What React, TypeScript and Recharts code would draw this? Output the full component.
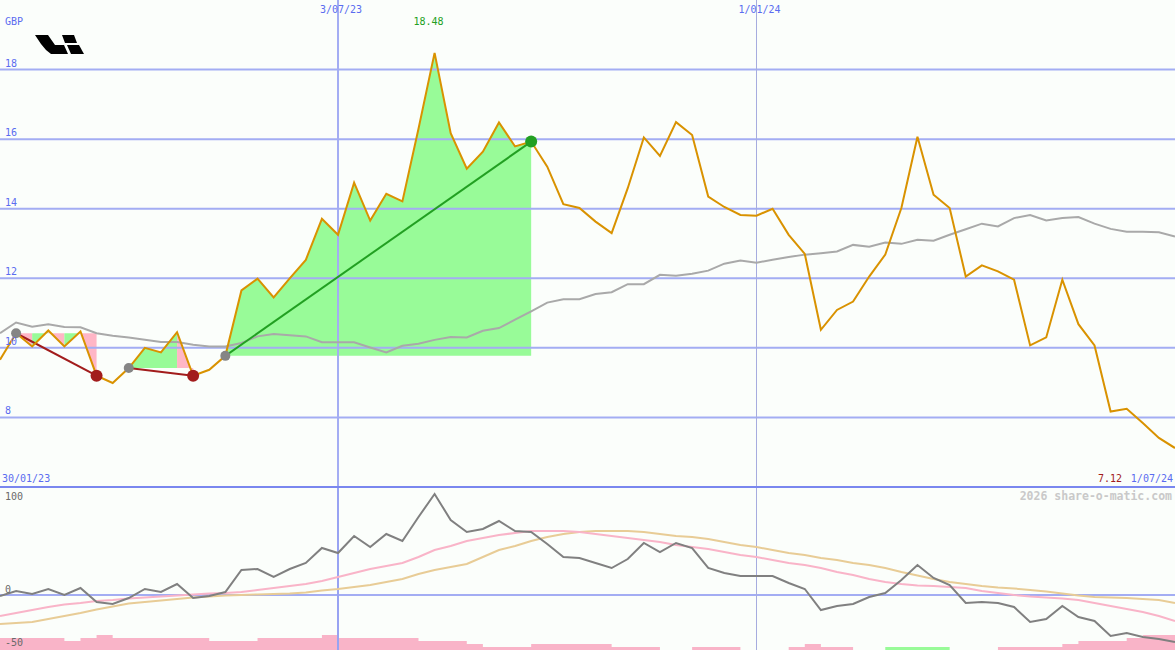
import React from 'react';
import { ComposedChart, Line, Area, XAxis, YAxis, ReferenceLine } from 'recharts';

// ---------- data ----------
const prices = [
  9.66, 10.42, 10.04, 10.5, 10.04, 10.47, 9.2, 8.99, 9.42, 10.0,
  9.87, 10.45, 9.2, 9.37, 9.77, 11.65, 11.99, 11.45, 12.0, 12.53,
  13.71, 13.25, 14.75, 13.66, 14.43, 14.21, 16.3, 18.48, 16.17, 15.15,
  15.64, 16.48, 15.79, 15.93, 15.21, 14.13, 14.02, 13.63, 13.3, 14.59,
  16.05, 15.52, 16.49, 16.12, 14.35, 14.05, 13.82, 13.8, 14.0, 13.25,
  12.7, 10.52, 11.09, 11.33, 12.05, 12.68, 14.02, 16.07, 14.4, 14.02,
  12.05, 12.37, 12.2, 11.96, 10.07, 10.3, 11.96, 10.68, 10.07, 8.17,
  8.25, 7.84, 7.41, 7.12,
];

const priceAverage = [
  10.42, 10.73, 10.61, 10.68, 10.6, 10.59, 10.42, 10.35, 10.3, 10.23,
  10.17, 10.17, 10.09, 10.04, 10.04, 10.14, 10.33, 10.4, 10.36, 10.33,
  10.16, 10.16, 10.16, 10.01, 9.87, 10.06, 10.12, 10.23, 10.31, 10.3,
  10.49, 10.57, 10.81, 11.05, 11.3, 11.4, 11.4, 11.55, 11.6, 11.83,
  11.83, 12.1, 12.07, 12.13, 12.22, 12.42, 12.51, 12.45, 12.53, 12.61,
  12.68, 12.72, 12.77, 12.96, 12.91, 13.03, 12.99, 13.11, 13.08, 13.25,
  13.41, 13.57, 13.49, 13.73, 13.82, 13.66, 13.73, 13.76, 13.57, 13.42,
  13.34, 13.34, 13.32, 13.2,
];

const momentum = [
  -1, 4, 1, 6, 0, 7, -7, -9, -3, 6,
  3, 11, -3, -1, 3, 25, 26, 18, 26, 32,
  47, 42, 59, 48, 61, 54, 78, 101, 75, 63,
  66, 74, 64, 63, 51, 38, 37, 32, 27, 36,
  52, 43, 52, 47, 27, 22, 19, 19, 19, 12,
  6, -15, -11, -9, -2, 2, 15, 30, 17, 10,
  -8, -7, -8, -12, -27, -24, -11, -22, -26, -41,
  -38, -42, -44, -47,
];

const momentumFast = [
  -21, -18, -15, -12, -9.5, -8, -6, -5, -3.5, -2.5,
  -1.5, -0.5, 0.5, 1.5, 2, 3, 5, 7, 9, 11,
  14, 18, 22, 26, 29, 32, 38, 45, 49, 54,
  57, 60, 62, 64, 64, 64, 63, 61, 59, 57,
  55, 53, 50, 48, 46, 43, 40, 38, 35, 32,
  30, 27, 23, 20, 16, 13, 11, 9.5, 9, 8,
  7, 4, 2, 0, -1.5, -2.5, -3.5, -5, -8, -11,
  -14, -17, -21, -26,
];

const momentumSlow = [
  -29, -28, -27, -24, -21, -18, -14.5, -11.5, -8.5, -7,
  -5.5, -4, -2.5, -1.5, -0.5, 0, 0.5, 1, 1.5, 2.5,
  4.5, 6, 8, 10, 13, 16, 21, 25, 28, 31,
  38, 45, 49, 54, 58, 61, 63, 64, 64, 64,
  63, 61, 59, 58, 56, 53, 50, 48, 45, 42,
  40, 37, 35, 32, 30, 27, 23, 19.5, 16, 13,
  11, 9, 7.5, 6.5, 5, 3.5, 1.5, -0.5, -2, -2.5,
  -3, -4, -5, -8,
];

// histogram bar heights (oscillator units above the floor), each covering [i, i+1]
const histPink = [
  12, 12, 12, 12, 9, 12, 15, 12, 12, 12,
  12, 12, 12, 9, 9, 9, 12, 12, 12, 12,
  15, 12, 12, 12, 12, 12, 9, 9, 9, 6,
  3, 3, 3, 6, 6, 6, 6, 6, 3, 3,
  3, 0, 0, 3, 3, 3, 0, 0, 0, 3,
  6, 3, 3, 0, 0, 0, 0, 0, 0, 0,
  0, 0, 3, 3, 3, 3, 6, 9, 9, 9,
  12, 15, 15, 15,
];
const histGreen = [
  0, 0, 0, 0, 0, 0, 0, 0, 0, 0,
  0, 0, 0, 0, 0, 0, 0, 0, 0, 0,
  0, 0, 0, 0, 0, 0, 0, 0, 0, 0,
  0, 0, 0, 0, 0, 0, 0, 0, 0, 0,
  0, 0, 0, 0, 0, 0, 0, 0, 0, 0,
  0, 0, 0, 0, 0, 3, 3, 3, 3, 0,
  0, 0, 0, 0, 0, 0, 0, 0, 0, 0,
  0, 0, 0, 0,
];

// trends: start index, end index, direction
const trends = [
  { from: 1, to: 6, up: false },
  { from: 8, to: 12, up: false },
  { from: 14, to: 33, up: true },
];
// shaded runs: [from, to, trend number, rising?]
const fillRuns: [number, number, number, boolean][] = [
  [1, 2, 0, false], [2, 3, 0, true], [3, 4, 0, false], [4, 5, 0, true], [5, 6, 0, false],
  [8, 11, 1, true], [11, 12, 1, false],
  [14, 33, 2, true],
];

const dateTickIdx = [21, 47];
const dateTickLabels = ['3/07/23', '1/01/24'];
const firstDateLabel = '30/01/23';
const lastDateLabel = '1/07/24';
const priceTicks = [8, 10, 12, 14, 16, 18];
const oscTicks = [100, 0, -50];
const currencyLabel = 'GBP';
const watermark = '2026 share-o-matic.com';

// ---------- style ----------
const MONO = "'DejaVu Sans Mono', monospace";
const BLUE = '#5a6cf0';
const GRID = '#a3adf3';
const GRID2 = '#a6acdf';
const SEP = '#7a87ef';
const BG = '#fbfefb';
const RED = '#a21c1c';
const GREEN = '#22a022';
const N = prices.length - 1;
const OSC_MIN = -55;
const OSC_MAX = 107;

const peakValue = Math.max(...prices);
const peakIdx = prices.indexOf(peakValue);
const lastValue = prices[N];

const data = prices.map((p, i) => {
  const row: any = {
    i,
    price: p,
    avg: priceAverage[i],
    mom: momentum[i],
    fast: momentumFast[i],
    slow: momentumSlow[i],
    hp: [OSC_MIN, OSC_MIN + histPink[i]],
    hg: [OSC_MIN, OSC_MIN + histGreen[i]],
  };
  fillRuns.forEach(([from, to, t], k) => {
    if (i >= from && i <= to) row['fill' + k] = [prices[trends[t].from], p];
  });
  trends.forEach((t, k) => {
    if (i === t.from || i === t.to) row['trend' + k] = p;
  });
  return row;
});

const PriceTick = (props: any) => (
  <text x={5} y={props.y - 3} fill={BLUE} fontSize={10} fontFamily={MONO}>
    {props.payload.value}
  </text>
);

const OscTick = (props: any) => {
  const v = props.payload.value;
  const dy = v === 0 ? -2.5 : v === 100 ? 5 : 1;
  return (
    <text x={5} y={props.y + dy} fill="#6a6a6a" fontSize={10} fontFamily={MONO}>
      {v}
    </text>
  );
};

const TopTick = (props: any) => {
  const v = props.payload.value;
  if (v === peakIdx) {
    return (
      <text x={props.x - 6} y={25} fill={GREEN} fontSize={10} fontFamily={MONO} textAnchor="middle">
        {peakValue.toFixed(2)}
      </text>
    );
  }
  const k = dateTickIdx.indexOf(v);
  return (
    <text x={props.x + 3} y={13} fill={BLUE} fontSize={10} fontFamily={MONO} textAnchor="middle">
      {k >= 0 ? dateTickLabels[k] : ''}
    </text>
  );
};

const BottomTick = (props: any) => {
  const v = props.payload.value;
  if (v === 0) {
    return (
      <text x={props.x + 2} y={482} fill={BLUE} fontSize={10} fontFamily={MONO} textAnchor="start">
        {firstDateLabel}
      </text>
    );
  }
  return (
    <g>
      <text x={props.x - 53} y={482} fill={RED} fontSize={10} fontFamily={MONO} textAnchor="end">
        {lastValue.toFixed(2)}
      </text>
      <text x={props.x - 2} y={482} fill={BLUE} fontSize={10} fontFamily={MONO} textAnchor="end">
        {lastDateLabel}
      </text>
    </g>
  );
};

const makeTrendDot = (t: { from: number; to: number; up: boolean }) => (props: any) => {
  const { cx, cy, index, value } = props;
  if (value == null || cx == null || cy == null) return <g key={'n' + index} />;
  const isStart = index === t.from;
  return (
    <circle
      key={'d' + index}
      cx={cx}
      cy={cy}
      r={isStart ? 5 : 6}
      fill={isStart ? '#858585' : t.up ? GREEN : RED}
    />
  );
};

export default function App() {
  return (
    <div
      style={{
        position: 'absolute',
        left: 0,
        top: 0,
        width: 1175,
        height: 650,
        background: BG,
        overflow: 'hidden',
      }}
    >
      <div style={{ position: 'absolute', left: 0, top: 0 }}>
        <ComposedChart width={1175} height={487} data={data} margin={{ top: 0, right: 0, bottom: 0, left: 0 }}>
          <XAxis
            dataKey="i"
            type="number"
            domain={[0, N]}
            orientation="top"
            mirror
            ticks={[...dateTickIdx, peakIdx]}
            tick={TopTick}
            axisLine={false}
            tickLine={false}
            interval={0}
          />
          <XAxis
            xAxisId="b"
            dataKey="i"
            type="number"
            domain={[0, N]}
            orientation="bottom"
            mirror
            ticks={[0, N]}
            tick={BottomTick}
            axisLine={false}
            tickLine={false}
            interval={0}
          />
          <YAxis
            type="number"
            domain={[6, 20]}
            ticks={priceTicks}
            mirror
            tick={PriceTick}
            axisLine={false}
            tickLine={false}
            allowDataOverflow
            interval={0}
          />
          {fillRuns.map(([from, to, t, up], k) => (
            <Area
              key={'f' + k}
              dataKey={'fill' + k}
              type="linear"
              stroke="none"
              fill={up ? '#98fb98' : '#ffb6c6'}
              fillOpacity={1}
              isAnimationActive={false}
              connectNulls={false}
              dot={false}
              activeDot={false}
            />
          ))}
          {priceTicks.map((v) => (
            <ReferenceLine key={'g' + v} y={v} stroke={GRID} strokeWidth={2} />
          ))}
          <ReferenceLine x={dateTickIdx[0]} stroke={GRID} strokeWidth={2} />
          <ReferenceLine x={dateTickIdx[1]} stroke={GRID2} strokeWidth={1} />
          <Line
            dataKey="avg"
            type="linear"
            stroke="#a9a9a9"
            strokeWidth={2}
            dot={false}
            activeDot={false}
            isAnimationActive={false}
          />
          {trends.map((t, k) => (
            <Line
              key={'t' + k}
              dataKey={'trend' + k}
              type="linear"
              stroke={t.up ? GREEN : RED}
              strokeWidth={2}
              connectNulls
              dot={makeTrendDot(t)}
              activeDot={false}
              isAnimationActive={false}
            />
          ))}
          <Line
            dataKey="price"
            type="linear"
            stroke="#d99200"
            strokeWidth={2}
            dot={false}
            activeDot={false}
            isAnimationActive={false}
          />
        </ComposedChart>
      </div>

      <div
        style={{
          position: 'absolute',
          left: 0,
          top: 486,
          width: 1175,
          height: 162,
          borderTop: `2px solid ${SEP}`,
        }}
      >
        <ComposedChart width={1175} height={162} data={data} margin={{ top: 0, right: 0, bottom: 0, left: 0 }}>
          <XAxis dataKey="i" type="number" domain={[0, N]} hide />
          <YAxis
            type="number"
            domain={[OSC_MIN, OSC_MAX]}
            ticks={oscTicks}
            mirror
            tick={OscTick}
            axisLine={false}
            tickLine={false}
            allowDataOverflow
            interval={0}
          />
          <Area
            dataKey="hp"
            type="stepAfter"
            stroke="none"
            fill="#f9b4c8"
            fillOpacity={1}
            isAnimationActive={false}
            dot={false}
            activeDot={false}
          />
          <Area
            dataKey="hg"
            type="stepAfter"
            stroke="none"
            fill="#98fb98"
            fillOpacity={1}
            isAnimationActive={false}
            dot={false}
            activeDot={false}
          />
          <ReferenceLine y={0} stroke={GRID} strokeWidth={2} />
          <ReferenceLine x={dateTickIdx[0]} stroke="#98a3f2" strokeWidth={2} />
          <ReferenceLine x={dateTickIdx[1]} stroke={GRID2} strokeWidth={1} />
          <Line dataKey="slow" type="linear" stroke="#e8cc96" strokeWidth={2} dot={false} activeDot={false} isAnimationActive={false} />
          <Line dataKey="fast" type="linear" stroke="#f9b4c8" strokeWidth={2} dot={false} activeDot={false} isAnimationActive={false} />
          <Line dataKey="mom" type="linear" stroke="#808080" strokeWidth={2} dot={false} activeDot={false} isAnimationActive={false} />
        </ComposedChart>
      </div>

      <svg
        width={1175}
        height={650}
        style={{ position: 'absolute', left: 0, top: 0, pointerEvents: 'none' }}
      >
        <text x={5} y={25} fill={BLUE} fontSize={10} fontFamily={MONO}>
          {currencyLabel}
        </text>
        <g fill="#000">
          <polygon points="35,35 48,35 55,45 64,45 68,54 51,54 46,50 41,44" />
          <polygon points="62,35 74,35 77,43 65,43" />
          <polygon points="67,45 79,45 84,54 71,54" />
        </g>
        <text
          x={1172}
          y={500}
          fill="#c9c9c9"
          fontSize={11.5}
          fontWeight="bold"
          fontFamily={MONO}
          textAnchor="end"
        >
          {watermark}
        </text>
      </svg>
    </div>
  );
}
